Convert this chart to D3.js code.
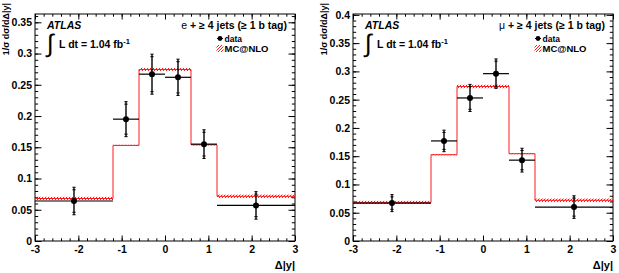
<!DOCTYPE html>
<html>
<head>
<meta charset="utf-8">
<script src="https://cdn.jsdelivr.net/npm/d3@7"></script>
<style>
  html, body { margin: 0; padding: 0; background: #fff; }
  svg text { font-family: "Liberation Sans", Arial, Helvetica, sans-serif; }
</style>
</head>
<body>
<svg id="chart" width="619" height="273"></svg>
<script>
// ---------------- data ----------------
const binEdges   = [-3, -1.2, -0.6, 0, 0.6, 1.2, 3];
const binCenters = [-2.1, -0.9, -0.3, 0.3, 0.9, 2.1];
const xTickLabels = [-3, -2, -1, 0, 1, 2, 3];

// electron channel
const dataE     = [0.064, 0.195, 0.267, 0.262, 0.155, 0.057];
const totErrE   = [0.022, 0.028, 0.032, 0.029, 0.023, 0.022];
const statErrE  = [0.018, 0.024, 0.028, 0.025, 0.019, 0.018];
const mcE       = [0.068, 0.153, 0.2745, 0.2745, 0.154, 0.0715];
const mcErrE    = [0.0027, 0.001, 0.0025, 0.0025, 0.001, 0.0027];
const yTicksE   = [0, 0.05, 0.1, 0.15, 0.2, 0.25, 0.3, 0.35];

// muon channel
const dataMu    = [0.067, 0.177, 0.253, 0.296, 0.143, 0.060];
const totErrMu  = [0.015, 0.019, 0.024, 0.026, 0.021, 0.020];
const statErrMu = [0.011, 0.015, 0.020, 0.022, 0.017, 0.016];
const mcMu      = [0.0683, 0.1526, 0.2733, 0.2733, 0.1544, 0.072];
const mcErrMu   = [0.0027, 0.001, 0.003, 0.003, 0.001, 0.003];
const yTicksMu  = [0, 0.05, 0.1, 0.15, 0.2, 0.25, 0.3, 0.35, 0.4];

const channelLabels = ["e", "\u03bc"];
const lumiText = "L dt = 1.04 fb";

// ---------------- drawing ----------------
const svg = d3.select("#chart");
const defs = svg.append("defs");
const pat = defs.append("pattern")
  .attr("id", "hatch").attr("patternUnits", "userSpaceOnUse")
  .attr("width", 3).attr("height", 3);
pat.append("path").attr("d", "M-1,1 L1,-1 M0,3 L3,0 M2,4 L4,2")
  .attr("stroke", "#ff0000").attr("stroke-width", 0.9);

const fmtY = d => String(+d.toFixed(3));

function drawPanel(cfg) {
  const { left, right, top, bottom, ymax, yTicks, data, totErr, statErr, mc, mcErr, chan } = cfg;
  const g = svg.append("g");
  const x = d3.scaleLinear().domain([-3, 3]).range([left, right]);
  const y = d3.scaleLinear().domain([0, ymax]).range([bottom, top]);

  const minorX = x.ticks(30);
  const minorY = d3.range(0, Math.floor(ymax * 100 + 1e-6) + 1).map(i => i / 100);

  const styleAxis = sel => {
    sel.select(".domain").remove();
    sel.selectAll("line").attr("stroke", "#000").attr("stroke-width", 1);
    sel.selectAll("text").attr("font-size", "10.5px").attr("font-weight", "bold")
      .attr("fill", "#000").attr("font-family", "Liberation Sans, Arial, sans-serif");
  };
  g.append("g").attr("transform", `translate(0,${bottom})`)
    .call(d3.axisBottom(x).tickValues(minorX).tickSizeInner(-2.7).tickSizeOuter(0).tickFormat(""))
    .call(styleAxis);
  g.append("g").attr("transform", `translate(0,${bottom})`)
    .call(d3.axisBottom(x).tickValues(xTickLabels).tickSizeInner(-5.5).tickSizeOuter(0)
      .tickPadding(4.5).tickFormat(d => String(d)))
    .call(styleAxis);
  g.append("g").attr("transform", `translate(0,${top})`)
    .call(d3.axisTop(x).tickValues(minorX).tickSizeInner(-2.7).tickSizeOuter(0).tickFormat(""))
    .call(styleAxis);
  g.append("g").attr("transform", `translate(0,${top})`)
    .call(d3.axisTop(x).tickValues(xTickLabels).tickSizeInner(-5.5).tickSizeOuter(0).tickFormat(""))
    .call(styleAxis);
  g.append("g").attr("transform", `translate(${left},0)`)
    .call(d3.axisLeft(y).tickValues(minorY).tickSizeInner(-3.2).tickSizeOuter(0).tickFormat(""))
    .call(styleAxis);
  g.append("g").attr("transform", `translate(${left},0)`)
    .call(d3.axisLeft(y).tickValues(yTicks).tickSizeInner(-6.5).tickSizeOuter(0)
      .tickPadding(3).tickFormat(fmtY))
    .call(styleAxis);
  g.append("g").attr("transform", `translate(${right},0)`)
    .call(d3.axisRight(y).tickValues(minorY).tickSizeInner(-3.2).tickSizeOuter(0).tickFormat(""))
    .call(styleAxis);
  g.append("g").attr("transform", `translate(${right},0)`)
    .call(d3.axisRight(y).tickValues(yTicks).tickSizeInner(-6.5).tickSizeOuter(0).tickFormat(""))
    .call(styleAxis);

  // frame
  g.append("rect").attr("x", left).attr("y", top)
    .attr("width", right - left).attr("height", bottom - top)
    .attr("fill", "none").attr("stroke", "#000").attr("stroke-width", 1);

  // MC band
  const bins = mc.map((v, i) => ({ x0: binEdges[i], x1: binEdges[i + 1], v, e: mcErr[i] }));
  g.selectAll(".band").data(bins).enter().append("rect")
    .attr("x", d => x(d.x0)).attr("width", d => x(d.x1) - x(d.x0))
    .attr("y", d => y(d.v + d.e)).attr("height", d => y(d.v - d.e) - y(d.v + d.e))
    .attr("fill", "url(#hatch)");
  // MC step line
  const pts = [];
  bins.forEach(b => { pts.push([x(b.x0), y(b.v)]); pts.push([x(b.x1), y(b.v)]); });
  g.append("path").attr("d", d3.line()(pts))
    .attr("fill", "none").attr("stroke", "#ff1a1a").attr("stroke-width", 1);

  // data
  const pd = data.map((v, i) => ({ xc: binCenters[i], x0: binEdges[i], x1: binEdges[i + 1], v, t: totErr[i], s: statErr[i] }));
  const dg = g.selectAll(".pt").data(pd).enter().append("g");
  dg.append("line").attr("x1", d => x(d.x0)).attr("x2", d => x(d.x1))
    .attr("y1", d => y(d.v)).attr("y2", d => y(d.v)).attr("stroke", "#000").attr("stroke-width", 1.2);
  dg.append("line").attr("x1", d => x(d.xc)).attr("x2", d => x(d.xc))
    .attr("y1", d => y(d.v - d.t)).attr("y2", d => y(d.v + d.t)).attr("stroke", "#000").attr("stroke-width", 1.4);
  [["t", 1], ["t", -1], ["s", 1], ["s", -1]].forEach(([k, sgn]) => {
    dg.append("line").attr("x1", d => x(d.xc) - 1.6).attr("x2", d => x(d.xc) + 1.6)
      .attr("y1", d => y(d.v + sgn * d[k])).attr("y2", d => y(d.v + sgn * d[k]))
      .attr("stroke", "#000").attr("stroke-width", 1);
  });
  dg.append("circle").attr("cx", d => x(d.xc)).attr("cy", d => y(d.v)).attr("r", 3).attr("fill", "#000");

  // texts
  g.append("text").attr("x", left + 12).attr("y", top + 15)
    .attr("font-size", "10.5px").attr("font-weight", "bold").attr("font-style", "italic")
    .text("ATLAS");
  g.append("text").attr("x", left + 12).attr("y", top + 38)
    .attr("font-size", "25px").attr("font-family", "DejaVu Sans")
    .text("\u222b");
  const lt = g.append("text").attr("x", left + 24).attr("y", top + 33.5)
    .attr("font-size", "10.5px").attr("font-weight", "bold");
  lt.append("tspan").text(lumiText);
  lt.append("tspan").attr("dy", -4).attr("font-size", "7.5px").text("-1");

  const ct = g.append("text").attr("x", right - 8).attr("y", top + 14.5)
    .attr("text-anchor", "end").attr("font-size", "10.5px").attr("font-weight", "bold");
  ct.append("tspan").attr("font-weight", "normal").text(chan);
  ct.append("tspan").text(" + \u2265 4 jets (\u2265 1 b tag)");

  // legend
  const lx = right - 75, ly1 = top + 24.5, ly2 = top + 34.5;
  g.append("line").attr("x1", lx - 3).attr("x2", lx + 3).attr("y1", ly1).attr("y2", ly1)
    .attr("stroke", "#000").attr("stroke-width", 1);
  g.append("circle").attr("cx", lx).attr("cy", ly1).attr("r", 2.4).attr("fill", "#000");
  g.append("text").attr("x", lx + 4.5).attr("y", ly1 + 3.1)
    .attr("font-size", "8.5px").attr("font-weight", "bold").text("data");
  g.append("rect").attr("x", lx - 3.5).attr("y", ly2 - 3.5).attr("width", 7).attr("height", 7)
    .attr("fill", "url(#hatch)");
  g.append("text").attr("x", lx + 4.5).attr("y", ly2 + 3.1)
    .attr("font-size", "8.5px").attr("font-weight", "bold").attr("textLength", 44)
    .attr("lengthAdjust", "spacingAndGlyphs").text("MC@NLO");

  // axis titles
  g.append("text").attr("x", right).attr("y", 269)
    .attr("text-anchor", "end").attr("font-size", "11px").attr("font-weight", "bold")
    .text("\u0394|y|");
  g.append("text").attr("transform", `translate(${left - 26.5},3) rotate(-90)`)
    .attr("text-anchor", "end").attr("font-size", "9px").attr("font-weight", "bold")
    .text("1/\u03c3 d\u03c3/d\u0394|y|");
}

drawPanel({ left: 35, right: 295, top: 14, bottom: 241, ymax: 0.3633, yTicks: yTicksE,
  data: dataE, totErr: totErrE, statErr: statErrE, mc: mcE, mcErr: mcErrE, chan: channelLabels[0] });
drawPanel({ left: 353, right: 613, top: 14, bottom: 241, ymax: 0.4015, yTicks: yTicksMu,
  data: dataMu, totErr: totErrMu, statErr: statErrMu, mc: mcMu, mcErr: mcErrMu, chan: channelLabels[1] });
</script>
</body>
</html>
